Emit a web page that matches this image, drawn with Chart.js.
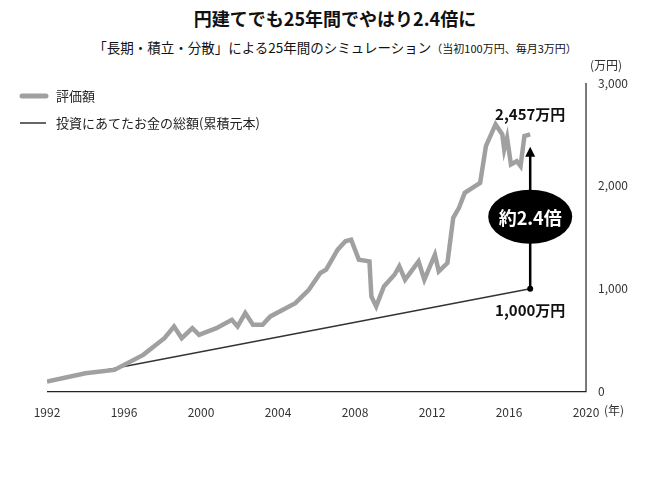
<!DOCTYPE html>
<html><head><meta charset="utf-8">
<script src="https://cdn.jsdelivr.net/npm/chart.js@4"></script>
<style>
body{margin:0;background:#fff;font-family:"Noto Sans CJK JP",sans-serif;}
#wrap{position:relative;width:670px;height:491px;}
#t1{position:absolute;top:5px;left:0;width:670px;text-align:center;font-size:18px;font-weight:bold;color:#111;}
#t2{position:absolute;top:37px;left:0;width:670px;text-align:center;font-size:13.5px;color:#111;}
#t2 small{font-size:11px;}
canvas{position:absolute;left:0;top:0;}
</style></head><body>
<div id="wrap">
<div id="t1">円建てでも25年間でやはり2.4倍に</div>
<div id="t2">「長期・積立・分散」による25年間のシミュレーション<small>（当初100万円、毎月3万円）</small></div>
<canvas id="c" width="670" height="491"></canvas>
</div>
<script>
const valueYears=[1992.0,1994.0,1995.5,1997.0,1998.1,1998.6,1999.0,1999.55,1999.9,2000.8,2001.6,2001.9,2002.3,2002.7,2003.2,2003.6,2004.9,2005.6,2006.2,2006.5,2007.1,2007.5,2007.8,2008.2,2008.75,2008.85,2009.1,2009.5,2010.05,2010.3,2010.6,2011.3,2011.6,2012.15,2012.35,2012.8,2013.1,2013.4,2013.7,2014.5,2014.8,2015.3,2015.65,2015.75,2015.9,2016.1,2016.4,2016.6,2016.8,2017.1];
const valueAmounts=[97,179,211,357,519,633,519,617,552,617,698,633,763,649,649,731,860,990,1153,1185,1380,1461,1477,1282,1266,925,828,1023,1136,1218,1088,1266,1088,1331,1169,1250,1688,1786,1932,2029,2386,2597,2500,2354,2468,2208,2240,2192,2484,2500];
const principalYears=[1992.0,2017.1];
const principalAmounts=[100,1000];
const finalValue=2457, finalPrincipal=1000;
const xTicks=[1992,1996,2000,2004,2008,2012,2016,2020];
const yTicks=[0,1000,2000,3000];
const F='"Noto Sans CJK JP",sans-serif';
const deco={id:'deco',afterDatasetsDraw(ch){
 const c=ch.ctx,x=ch.scales.x,y=ch.scales.y,a=ch.chartArea;
 c.save();
 c.strokeStyle='#222';c.lineWidth=1.2;
 c.beginPath();c.moveTo(a.left,a.bottom);c.lineTo(a.right,a.bottom);c.lineTo(a.right,a.top);c.stroke();
 c.lineCap='round';c.strokeStyle='#a0a0a0';c.lineWidth=5;
 c.beginPath();c.moveTo(22,96);c.lineTo(46,96);c.stroke();
 c.strokeStyle='#333';c.lineWidth=1.5;c.lineCap='butt';
 c.beginPath();c.moveTo(20,123);c.lineTo(46,123);c.stroke();
 c.fillStyle='#222';c.font='13px '+F;c.textBaseline='middle';c.textAlign='left';
 c.fillText('評価額',56,96);c.fillText('投資にあてたお金の総額(累積元本)',56,123);
 const ax=x.getPixelForValue(principalYears[1]);
 const y0=y.getPixelForValue(finalPrincipal),y1=y.getPixelForValue(2380);
 c.strokeStyle='#000';c.lineWidth=2.5;
 c.beginPath();c.moveTo(ax,y0);c.lineTo(ax,y1+8);c.stroke();
 c.fillStyle='#000';c.beginPath();c.moveTo(ax,y1);c.lineTo(ax-5,y1+10);c.lineTo(ax+5,y1+10);c.closePath();c.fill();
 c.beginPath();c.arc(ax,y0,3,0,Math.PI*2);c.fill();
 const ey=y.getPixelForValue(1700);
 c.beginPath();c.ellipse(ax,ey,42,27,0,0,Math.PI*2);c.fill();
 c.fillStyle='#fff';c.font='bold 18px '+F;c.textAlign='center';
 c.fillText('約2.4倍',ax,ey+1);
 c.fillStyle='#111';c.font='bold 15px '+F;
 c.fillText(finalValue.toLocaleString('en-US')+'万円',ax,y.getPixelForValue(2700));
 c.fillText(finalPrincipal.toLocaleString('en-US')+'万円',ax,y0+22);
 c.font='12px '+F;c.fillStyle='#333';c.textAlign='left';
 c.fillText('(万円)',a.right+4,a.top-18);
 c.fillText('(年)',x.getPixelForValue(2020)+18,a.bottom+19);
 c.restore();
}};
new Chart(document.getElementById('c'),{
 type:'line',
 data:{datasets:[
  {data:valueYears.map((v,i)=>({x:v,y:valueAmounts[i]})),borderColor:'#a0a0a0',borderWidth:4.5,pointRadius:0,tension:0},
  {data:principalYears.map((v,i)=>({x:v,y:principalAmounts[i]})),borderColor:'#333',borderWidth:1.5,pointRadius:0}
 ]},
 options:{responsive:false,animation:false,
  layout:{padding:{left:47,right:38,top:83,bottom:65}},
  plugins:{legend:{display:false},tooltip:{enabled:false}},
  scales:{
   x:{type:'linear',min:1992,max:2020,grid:{display:false},border:{display:false},
      afterBuildTicks:s=>{s.ticks=xTicks.map(v=>({value:v}));},
      ticks:{color:'#333',font:{size:12,family:F},maxRotation:0,callback:v=>String(v),padding:6}},
   y:{position:'right',min:0,max:3000,grid:{display:false},border:{display:false},
      afterBuildTicks:s=>{s.ticks=yTicks.map(v=>({value:v}));},
      ticks:{color:'#333',font:{size:12,family:F},callback:v=>v.toLocaleString('en-US'),padding:4}}
  }}
 ,plugins:[deco]});
</script></body></html>
